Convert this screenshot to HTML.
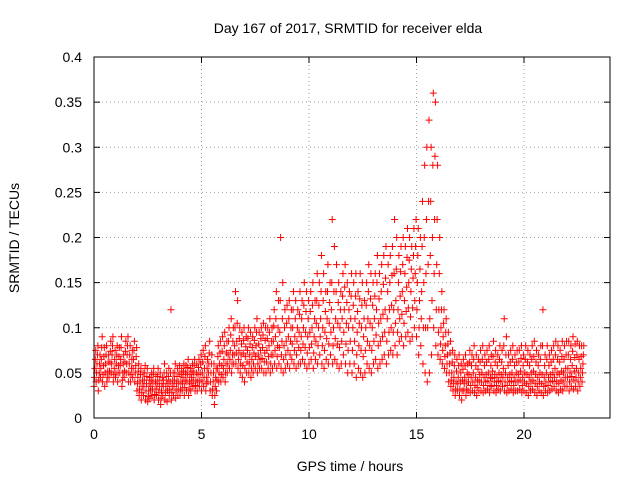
<!DOCTYPE html>
<html><head><meta charset="utf-8"><style>
body{margin:0;background:#fff}
svg{display:block;font-family:"Liberation Sans",sans-serif}
</style></head><body>
<svg id="chart" width="640" height="480">
<text x="348" y="33" text-anchor="middle" font-size="14">Day 167 of 2017, SRMTID for receiver elda</text>
<text x="350" y="471" text-anchor="middle" font-size="14">GPS time / hours</text>
<text transform="translate(19,238) rotate(-90)" text-anchor="middle" font-size="14">SRMTID / TECUs</text>
<g id="grid"></g><g id="ticks"></g><g id="pts"></g>
<rect x="94" y="57" width="516" height="361" fill="none" stroke="#000"/>
</svg>
<script>
const xTicks=[0,5,10,15,20];
const yTicks=[0,0.05,0.1,0.15,0.2,0.25,0.3,0.35,0.4];
const yTickLabels=["0","0.05","0.1","0.15","0.2","0.25","0.3","0.35","0.4"];
const binStep=0.1;
const mid=[.055,.06,.05,.065,.058,.06,.052,.062,.07,.055,.06,.058,.065,.05,.062,.07,.06,.055,.065,.058,
.045,.04,.035,.042,.038,.03,.035,.04,.032,.038,.035,.03,.042,.035,.038,.04,.035,.042,.038,.04,
.04,.045,.042,.048,.04,.045,.05,.042,.048,.05,.05,.055,.045,.06,.05,.04,.035,.055,.06,.058,
.065,.06,.07,.075,.07,.08,.085,.075,.07,.072,.068,.075,.07,.065,.072,.08,.07,.075,.078,.072,
.075,.08,.07,.085,.09,.08,.095,.085,.08,.085,.09,.085,.1,.09,.085,.095,.09,.1,.095,.09,
.095,.1,.09,.105,.1,.11,.1,.095,.11,.105,.12,.1,.11,.105,.1,.11,.12,.105,.1,.11,
.1,.11,.095,.105,.1,.09,.1,.11,.105,.1,.11,.12,.105,.11,.115,.12,.11,.12,.125,.12,
.13,.12,.135,.14,.13,.145,.15,.14,.155,.16,.15,.13,.14,.15,.16,.17,.18,.2,.22,.17,
.12,.1,.09,.08,.07,.06,.05,.045,.04,.045,.04,.042,.045,.04,.048,.045,.05,.045,.042,.048,
.05,.045,.048,.05,.045,.052,.048,.045,.05,.048,.055,.05,.045,.048,.05,.045,.05,.048,.052,.045,
.05,.048,.045,.05,.052,.048,.045,.05,.048,.045,.05,.045,.048,.05,.055,.05,.048,.052,.05,.055,
.055,.05,.058,.052,.055,.05,.055,.06];
const lo=[.035,.04,.03,.045,.04,.035,.04,.045,.05,.04,.045,.04,.05,.035,.045,.05,.04,.04,.045,.04,
.03,.025,.02,.025,.02,.018,.022,.025,.02,.025,.02,.015,.025,.02,.018,.025,.02,.025,.022,.025,
.025,.03,.025,.03,.025,.03,.035,.03,.03,.035,.03,.035,.03,.04,.03,.025,.015,.03,.04,.04,
.045,.04,.05,.055,.05,.06,.06,.055,.05,.045,.04,.05,.05,.045,.05,.055,.05,.055,.055,.05,
.05,.055,.05,.055,.06,.055,.06,.055,.05,.055,.06,.055,.065,.06,.055,.06,.06,.065,.06,.055,
.06,.065,.055,.065,.06,.07,.06,.055,.065,.06,.07,.06,.065,.06,.055,.06,.07,.06,.05,.06,
.05,.06,.045,.055,.05,.045,.05,.06,.055,.05,.06,.065,.055,.06,.065,.07,.06,.07,.075,.07,
.08,.07,.085,.09,.08,.09,.095,.085,.09,.1,.09,.07,.08,.06,.05,.04,.05,.07,.1,.08,
.07,.065,.06,.055,.05,.04,.035,.03,.025,.03,.025,.02,.03,.025,.03,.028,.03,.028,.025,.03,
.03,.028,.03,.032,.028,.035,.03,.028,.032,.03,.035,.03,.028,.03,.032,.028,.03,.03,.032,.028,
.03,.028,.025,.03,.032,.028,.025,.03,.028,.025,.03,.028,.03,.032,.035,.03,.028,.032,.03,.035,
.035,.03,.035,.032,.035,.03,.035,.04];
const hi=[.075,.08,.07,.09,.078,.08,.07,.085,.09,.075,.08,.078,.09,.07,.085,.09,.08,.075,.085,.078,
.06,.055,.05,.058,.055,.045,.05,.055,.048,.055,.05,.045,.06,.05,.055,.12,.05,.06,.055,.058,
.055,.06,.058,.065,.055,.06,.065,.06,.065,.07,.075,.08,.065,.085,.07,.06,.055,.08,.085,.09,
.095,.085,.1,.11,.1,.14,.13,.1,.095,.1,.09,.1,.095,.09,.1,.11,.095,.1,.105,.1,
.1,.11,.1,.12,.14,.13,.2,.15,.12,.125,.13,.12,.14,.13,.12,.14,.13,.15,.14,.13,
.14,.15,.13,.16,.15,.18,.16,.14,.17,.15,.22,.19,.17,.15,.14,.16,.17,.15,.14,.16,
.15,.16,.14,.16,.15,.13,.15,.17,.16,.15,.16,.18,.16,.17,.18,.19,.17,.18,.19,.22,
.2,.18,.19,.2,.19,.21,.2,.19,.21,.22,.21,.2,.24,.28,.3,.33,.3,.36,.35,.28,
.2,.14,.12,.11,.095,.085,.075,.07,.065,.07,.06,.065,.07,.06,.075,.07,.08,.07,.065,.075,
.08,.07,.075,.08,.07,.085,.075,.07,.08,.075,.11,.09,.07,.075,.08,.07,.075,.075,.08,.07,
.08,.075,.07,.08,.085,.075,.07,.08,.12,.07,.08,.07,.075,.08,.085,.08,.075,.085,.08,.085,
.085,.08,.09,.082,.085,.08,.08,.08];
const q1=[.045,.05,.042,.055,.048,.05,.045,.052,.06,.048,.05,.05,.058,.042,.052,.06,.05,.048,.055,.05,
.038,.032,.028,.035,.03,.024,.03,.032,.026,.032,.028,.022,.035,.028,.03,.032,.028,.035,.03,.032,
.032,.038,.034,.04,.032,.038,.042,.036,.04,.042,.04,.045,.038,.05,.04,.032,.025,.042,.05,.048,
.055,.05,.06,.065,.06,.07,.072,.065,.06,.058,.055,.062,.06,.055,.06,.068,.06,.065,.066,.062,
.062,.068,.06,.07,.075,.068,.078,.07,.065,.07,.075,.07,.082,.075,.07,.078,.075,.082,.078,.072,
.078,.082,.072,.085,.08,.09,.08,.075,.088,.082,.095,.08,.088,.082,.078,.085,.095,.082,.075,.085,
.075,.085,.07,.08,.075,.068,.075,.085,.08,.075,.085,.092,.08,.085,.09,.095,.085,.095,.1,.095,
.105,.095,.11,.115,.105,.118,.122,.112,.122,.13,.12,.1,.11,.1,.1,.1,.11,.13,.16,.12,
.095,.082,.075,.068,.06,.05,.042,.038,.032,.038,.032,.03,.038,.032,.04,.036,.04,.036,.034,.04,
.04,.036,.04,.041,.036,.044,.04,.036,.041,.04,.045,.04,.036,.04,.041,.036,.04,.04,.042,.036,
.04,.038,.035,.04,.042,.038,.035,.04,.038,.035,.04,.036,.04,.041,.045,.04,.038,.042,.04,.045,
.045,.04,.046,.042,.045,.04,.045,.05];
const q3=[.065,.07,.06,.078,.068,.07,.062,.074,.08,.065,.07,.068,.078,.06,.074,.08,.07,.065,.075,.068,
.052,.048,.042,.05,.046,.038,.042,.048,.04,.046,.042,.038,.05,.042,.046,.05,.042,.05,.046,.05,
.048,.052,.05,.056,.048,.052,.058,.05,.056,.06,.062,.068,.055,.072,.06,.05,.045,.068,.072,.074,
.08,.072,.085,.092,.085,.1,.105,.088,.082,.086,.079,.088,.082,.078,.086,.095,.082,.088,.092,.086,
.088,.095,.085,.102,.11,.1,.13,.11,.1,.105,.11,.1,.12,.11,.1,.115,.11,.125,.118,.11,
.118,.125,.11,.13,.125,.14,.13,.118,.14,.128,.15,.14,.14,.128,.12,.135,.145,.128,.12,.135,
.125,.135,.118,.132,.125,.11,.125,.14,.132,.125,.135,.15,.132,.14,.148,.155,.14,.15,.158,.16,
.165,.15,.162,.17,.16,.178,.175,.165,.18,.19,.18,.165,.19,.2,.22,.24,.24,.28,.29,.22,
.16,.12,.105,.095,.082,.072,.062,.058,.052,.058,.05,.054,.058,.05,.062,.058,.065,.058,.054,.062,
.065,.058,.062,.065,.058,.068,.062,.058,.065,.062,.08,.07,.058,.062,.065,.058,.062,.062,.066,.058,
.065,.062,.058,.065,.068,.062,.058,.065,.08,.058,.065,.058,.062,.065,.07,.065,.062,.068,.065,.07,
.07,.065,.074,.067,.07,.065,.068,.07];
const X0=94,X1=610,Y0=418,Y1=57,XMAX=24,YMAX=0.4;
const xs=v=>X0+(v/XMAX)*(X1-X0);
const ys=v=>Y0-(v/YMAX)*(Y0-Y1);
const NS="http://www.w3.org/2000/svg";
function mk(tag,attrs,parent){const e=document.createElementNS(NS,tag);for(const k in attrs)e.setAttribute(k,attrs[k]);parent.appendChild(e);return e;}
const grid=document.getElementById('grid'),ticks=document.getElementById('ticks'),pts=document.getElementById('pts');
xTicks.forEach(t=>{const x=xs(t);
 const g=mk('line',{x1:x,x2:x,y1:Y0,y2:Y1,stroke:'#a0a0a0','stroke-dasharray':'1,3'},grid);
 
 
 mk('line',{x1:x,x2:x,y1:Y0,y2:Y0-6,stroke:'#000'},ticks);
 mk('line',{x1:x,x2:x,y1:Y1,y2:Y1+6,stroke:'#000'},ticks);
 const l=mk('text',{x:x,y:Y0+21,'text-anchor':'middle','font-size':14},ticks);l.textContent=t;
 
 });
yTicks.forEach((t,i)=>{const y=ys(t);
 const g=mk('line',{x1:X0,x2:X1,y1:y,y2:y,stroke:'#a0a0a0','stroke-dasharray':'1,3'},grid);
 
 
 mk('line',{x1:X0,x2:X0+6,y1:y,y2:y,stroke:'#000'},ticks);
 mk('line',{x1:X1,x2:X1-6,y1:y,y2:y,stroke:'#000'},ticks);
 const l=mk('text',{x:X0-12,y:y+5,'text-anchor':'end','font-size':14},ticks);l.textContent=yTickLabels[i];
 
 });
let d='';
[lo,q1,mid,q3,hi].forEach((arr,s)=>arr.forEach((v,i)=>{
 const x=xs(i*binStep+s*0.02),y=ys(v);
 d+=`M${x-3.5},${y}h7M${x},${y-3.5}v7`;}));
const p=mk('path',{d:d,stroke:'#ff0000','stroke-width':1,fill:'none'},pts);


</script>
</body></html>
